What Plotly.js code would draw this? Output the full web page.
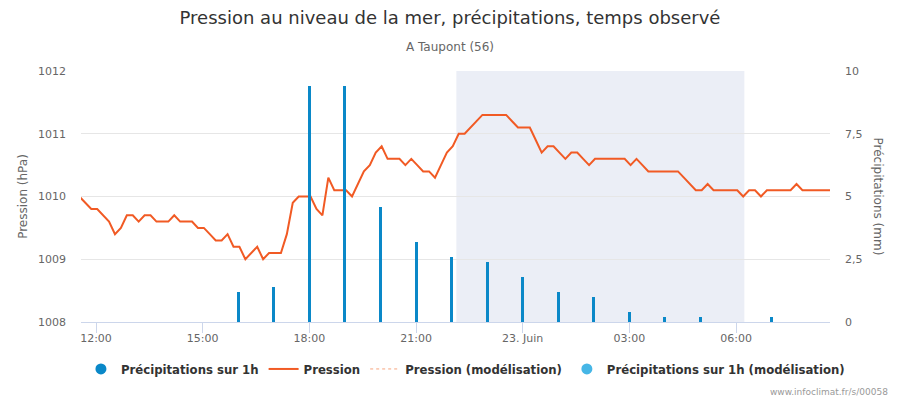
<!DOCTYPE html>
<html>
<head>
<meta charset="utf-8">
<script src="https://cdn.plot.ly/plotly-3.0.1.min.js"></script>
<style>
html,body{margin:0;padding:0;background:#fff;}
#chart{width:900px;height:400px;}
</style>
</head>
<body>
<div id="chart"></div>
<script>
// ---- Data ----
// Pressure (hPa), every 10 minutes starting 2024-06-22 11:32
const pressureStart = "2024-06-22T11:32:00";
const pressureStepMinutes = 10;
const pressureValues = [
  1010.0, 1009.9,
  1009.8, 1009.8, 1009.7, 1009.6, 1009.4, 1009.5, 1009.7, 1009.7, 1009.6, 1009.7,
  1009.7, 1009.6, 1009.6, 1009.6, 1009.7, 1009.6, 1009.6, 1009.6, 1009.5, 1009.5,
  1009.4, 1009.3, 1009.3, 1009.4, 1009.2, 1009.2, 1009.0, 1009.1, 1009.2, 1009.0,
  1009.1, 1009.1, 1009.1, 1009.4, 1009.9, 1010.0, 1010.0, 1010.0, 1009.8, 1009.7,
  1010.3, 1010.1, 1010.1, 1010.1, 1010.0, 1010.2, 1010.4, 1010.5, 1010.7, 1010.8,
  1010.6, 1010.6, 1010.6, 1010.5, 1010.6, 1010.5, 1010.4, 1010.4, 1010.3, 1010.5,
  1010.7, 1010.8, 1011.0, 1011.0, 1011.1, 1011.2, 1011.3, 1011.3, 1011.3, 1011.3,
  1011.3, 1011.2, 1011.1, 1011.1, 1011.1, 1010.9, 1010.7, 1010.8, 1010.8, 1010.7,
  1010.6, 1010.7, 1010.7, 1010.6, 1010.5, 1010.6, 1010.6, 1010.6, 1010.6, 1010.6,
  1010.6, 1010.5, 1010.6, 1010.5, 1010.4, 1010.4, 1010.4, 1010.4, 1010.4, 1010.4,
  1010.3, 1010.2, 1010.1, 1010.1, 1010.2, 1010.1, 1010.1, 1010.1, 1010.1, 1010.1,
  1010.0, 1010.1, 1010.1, 1010.0, 1010.1, 1010.1, 1010.1, 1010.1, 1010.1, 1010.2,
  1010.1, 1010.1, 1010.1, 1010.1, 1010.1, 1010.1
];

// Hourly precipitation (mm)
const precipTimes = [
  "2024-06-22 16:00", "2024-06-22 17:00", "2024-06-22 18:00", "2024-06-22 19:00",
  "2024-06-22 20:00", "2024-06-22 21:00", "2024-06-22 22:00", "2024-06-22 23:00",
  "2024-06-23 00:00", "2024-06-23 01:00", "2024-06-23 02:00", "2024-06-23 03:00",
  "2024-06-23 04:00", "2024-06-23 05:00", "2024-06-23 07:00"
];
const precipValues = [1.2, 1.4, 9.4, 9.4, 4.6, 3.2, 2.6, 2.4, 1.8, 1.2, 1.0, 0.4, 0.2, 0.2, 0.2];

// Axis ticks
const xTickVals = ["2024-06-22 12:00", "2024-06-22 15:00", "2024-06-22 18:00", "2024-06-22 21:00",
                   "2024-06-23 00:00", "2024-06-23 03:00", "2024-06-23 06:00"];
const xTickText = ["12:00", "15:00", "18:00", "21:00", "23. Juin", "03:00", "06:00"];
const yLeftTickVals = [1008, 1009, 1010, 1011, 1012];
const yRightTickVals = [0, 2.5, 5, 7.5, 10];
const yRightTickText = ["0", "2,5", "5", "7,5", "10"];

// Night band (sunset -> sunrise)
const nightStart = "2024-06-22 22:08";
const nightEnd = "2024-06-23 06:14";
const xRange = ["2024-06-22 11:34:40", "2024-06-23 08:38:30"];

// ---- Build times ----
function pad(n){return (n<10?"0":"")+n;}
const t0 = new Date(pressureStart);
const pressureTimes = pressureValues.map((v,i)=>{
  const d = new Date(t0.getTime() + i*pressureStepMinutes*60000);
  return d.getFullYear()+"-"+pad(d.getMonth()+1)+"-"+pad(d.getDate())+" "+pad(d.getHours())+":"+pad(d.getMinutes());
});

const barColor = "#0a88c8";
const barModelColor = "#46b6e6";
const lineColor = "#f15a24";
const legendFont = {family: "'DejaVu Sans Condensed', 'DejaVu Sans', sans-serif", size: 13, color: "#333333", weight: "bold"};

const traces = [
  {
    type: "bar", name: "Précipitations sur 1h", x: precipTimes, y: precipValues,
    yaxis: "y2", marker: {color: barColor, line: {width: 0}}, width: 300000,
    showlegend: false, legendgroup: "p", hoverinfo: "x+y"
  },
  {
    type: "scatter", mode: "markers", name: "Précipitations sur 1h", x: [null], y: [null],
    yaxis: "y2", marker: {color: barColor, size: 11, symbol: "circle"}, legendgroup: "p", showlegend: true
  },
  {
    type: "scatter", mode: "lines", name: "Pression", x: pressureTimes, y: pressureValues,
    yaxis: "y", line: {color: lineColor, width: 2}
  },
  {
    type: "scatter", mode: "lines", name: "Pression (modélisation)", x: [null], y: [null],
    yaxis: "y", line: {color: "#f7a47e", width: 1, dash: "dot"}, showlegend: true
  },
  {
    type: "scatter", mode: "markers", name: "Précipitations sur 1h (modélisation)", x: [null], y: [null],
    yaxis: "y2", marker: {color: barModelColor, size: 11, symbol: "circle"}, showlegend: true
  }
];

const tickFont = {family: "'DejaVu Sans', Verdana, sans-serif", size: 11, color: "#666666"};

const layout = {
  width: 900, height: 400,
  margin: {l: 81, r: 70, t: 71, b: 78, autoexpand: false},
  paper_bgcolor: "#ffffff", plot_bgcolor: "rgba(0,0,0,0)",
  showlegend: true,
  title: {
    text: "Pression au niveau de la mer, précipitations, temps observé",
    x: 0.5, xref: "container", xanchor: "center",
    y: 1 - 18/400, yref: "container", yanchor: "middle",
    font: {family: "'DejaVu Sans', Verdana, sans-serif", size: 18, color: "#333333"}
  },
  xaxis: {
    type: "date", range: xRange, tickmode: "array", tickvals: xTickVals, ticktext: xTickText,
    showgrid: false, zeroline: false, showline: true, linecolor: "#ccd6eb", linewidth: 1,
    ticks: "outside", ticklen: 10, tickcolor: "#ccd6eb", tickwidth: 1,
    tickfont: tickFont, ticklabelstandoff: -4, fixedrange: true
  },
  yaxis: {
    range: [1008, 1012], tickmode: "array", tickvals: yLeftTickVals,
    showgrid: true, gridcolor: "#e6e6e6", gridwidth: 1, zeroline: false, showline: false,
    tickfont: tickFont, ticklabelstandoff: 14, automargin: false,
    title: {text: "Pression (hPa)", font: {family: "'DejaVu Sans', sans-serif", size: 12, color: "#666666"}, standoff: 7},
    fixedrange: true
  },
  yaxis2: {
    overlaying: "y", side: "right", range: [0, 10], tickmode: "array",
    tickvals: yRightTickVals, ticktext: yRightTickText,
    showgrid: false, zeroline: false, showline: false,
    tickfont: tickFont, ticklabelstandoff: 14, automargin: false, fixedrange: true
  },
  shapes: [{
    type: "rect", xref: "x", yref: "paper", x0: nightStart, x1: nightEnd, y0: 0, y1: 1,
    fillcolor: "#ebeef6", line: {width: 0}, layer: "below"
  }],
  legend: {
    orientation: "h", xref: "paper", x: -0.0001, xanchor: "left",
    yref: "paper", y: (322-369)/251, yanchor: "middle",
    font: legendFont, itemwidth: 30, bgcolor: "rgba(0,0,0,0)", traceorder: "normal",
    itemclick: false, itemdoubleclick: false
  },
  bargap: 0,
  annotations: [
    {
      text: "A Taupont (56)", xref: "paper", yref: "paper", x: (450-81)/749, y: (322-47)/251,
      xanchor: "center", yanchor: "middle", showarrow: false,
      font: {family: "'DejaVu Sans', sans-serif", size: 12, color: "#666666"}
    },
    {
      text: "Précipitations (mm)", xref: "paper", yref: "paper", x: (878-81)/749, y: 0.5,
      xanchor: "center", yanchor: "middle", textangle: 90, showarrow: false,
      font: {family: "'DejaVu Sans', sans-serif", size: 12, color: "#666666"}
    },
    {
      text: "www.infoclimat.fr/s/00058", xref: "paper", yref: "paper", x: (890-81)/749, y: (322-392)/251,
      xanchor: "right", yanchor: "middle", showarrow: false,
      font: {family: "'DejaVu Sans', sans-serif", size: 9, color: "#999999"}
    }
  ]
};

Plotly.newPlot("chart", traces, layout, {displayModeBar: false, responsive: false});
</script>
</body>
</html>
